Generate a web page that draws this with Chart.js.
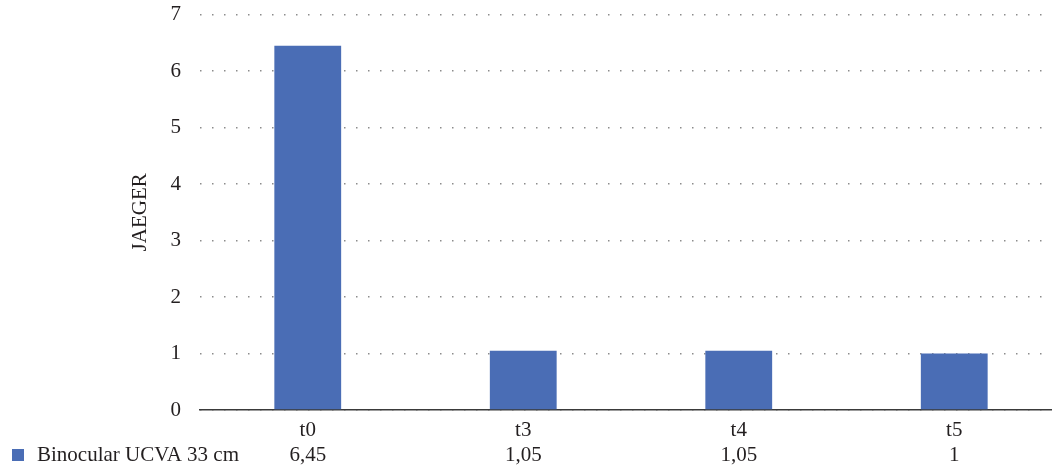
<!DOCTYPE html>
<html>
<head>
<meta charset="utf-8">
<script src="https://cdn.jsdelivr.net/npm/chart.js@4/dist/chart.umd.min.js"></script>
<style>
  html, body { margin: 0; padding: 0; background: #fff; overflow: hidden; }
  canvas { display: block; }
</style>
</head>
<body>
<canvas id="chart" width="1062" height="468"></canvas>
<script>
// Visits and binocular uncorrected visual acuity at 33 cm (Jaeger)
const categories = ['t0', 't3', 't4', 't5'];
const seriesName = 'Binocular UCVA 33 cm';
const ucva33 = [6.45, 1.05, 1.05, 1];
const yAxisTitle = 'JAEGER';
const yMin = 0, yMax = 7, yStep = 1;

const FONT = '"Liberation Serif", "DejaVu Serif", serif';
const TEXT = '#231f20';
const BAR = '#4a6db5';
const SIZE = 21;

// Data-table row under the x axis: legend key, series name, one value per category
const dataTableRow = {
  id: 'dataTableRow',
  afterDraw(chart) {
    const ctx = chart.ctx;
    const x = chart.scales.x;
    const y = 455;
    ctx.save();
    ctx.fillStyle = BAR;
    ctx.fillRect(12, y - 6, 12, 12);
    ctx.fillStyle = TEXT;
    ctx.font = SIZE + 'px ' + FONT;
    ctx.textBaseline = 'middle';
    ctx.textAlign = 'left';
    ctx.fillText(seriesName, 37, y);
    ctx.textAlign = 'center';
    ucva33.forEach((v, i) => {
      ctx.fillText(String(v).replace('.', ','), x.getPixelForValue(i), y);
    });
    ctx.restore();
  }
};

new Chart(document.getElementById('chart'), {
  type: 'bar',
  data: {
    labels: categories,
    datasets: [{
      label: seriesName,
      data: ucva33,
      backgroundColor: BAR,
      borderWidth: 0,
      barPercentage: 0.31,
      categoryPercentage: 1
    }]
  },
  options: {
    responsive: false,
    animation: false,
    layout: { padding: { left: 128, top: 0, right: 0, bottom: 0 } },
    plugins: { legend: { display: false }, tooltip: { enabled: false } },
    scales: {
      x: {
        grid: { display: false, drawTicks: false },
        border: { display: true, color: '#3a3a3a', width: 1.5 },
        ticks: { color: TEXT, font: { family: FONT, size: SIZE }, padding: 8 },
        afterFit(scale) { scale.height = 58; }
      },
      y: {
        min: yMin,
        max: yMax,
        grid: {
          color: '#8c8c8c',
          lineWidth: 1.5,
          drawTicks: true,
          tickLength: 17,
          tickColor: 'rgba(0,0,0,0)'
        },
        border: { display: false, dash: [1.5, 10.5] },
        ticks: { stepSize: yStep, color: TEXT, font: { family: FONT, size: SIZE }, padding: 2 },
        title: {
          display: true,
          text: yAxisTitle,
          color: TEXT,
          font: { family: FONT, size: SIZE },
          padding: 0
        },
        afterFit(scale) { scale.width = 72; }
      }
    }
  },
  plugins: [dataTableRow]
});
</script>
</body>
</html>
